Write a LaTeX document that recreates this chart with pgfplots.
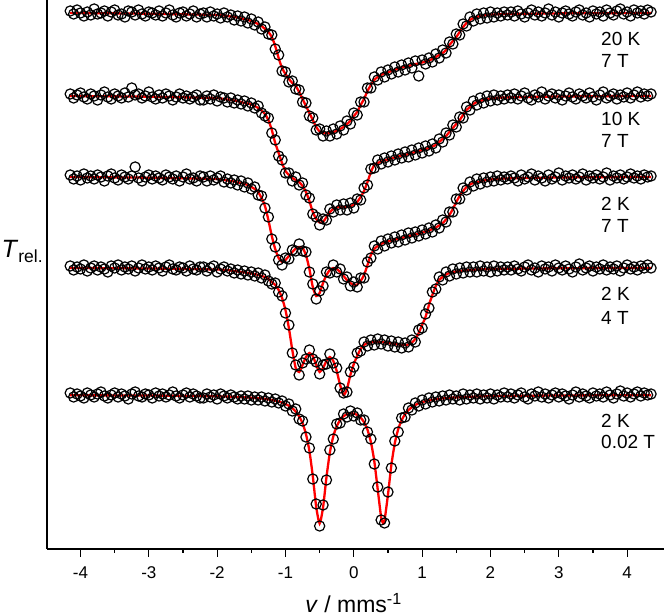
\documentclass[border=0pt]{standalone}
\usepackage{pgfplots}
\usepackage{pgfplotstable}
\usepackage{fontspec}
\setmainfont{Liberation Sans}
\pgfplotsset{compat=1.18}

\pgfplotstableread{
x a b c d e
-4.15 538 455 374 283 156
-4.10 535 451 370 279 152
-4.05 539 454 373 282 155
-4.00 536 456 369 280 153
-3.95 533 452 375 284 151
-3.90 537 450 371 278 156
-3.85 534 455 373 281 154
-3.80 540 453 370 283 152
-3.75 535 449 374 279 155
-3.70 536 454 372 282 157
-3.65 538 457 368 280 153
-3.60 533 452 373 277 151
-3.55 537 450 375 283 154
-3.50 539 455 371 281 156
-3.45 534 453 369 284 152
-3.40 535 451 374 279 155
-3.35 532 456 372 282 153
-3.30 538 452 370 280 150
-3.25 537 461 373 283 155
-3.20 534 454 382 278 157
-3.15 539 455 371 281 153
-3.10 535 451 368 284 152
-3.05 533 453 372 280 155
-3.00 537 457 374 282 154
-2.95 536 452 370 279 151
-2.90 534 450 373 283 156
-2.85 538 454 371 281 153
-2.80 533 451 369 278 155
-2.75 536 455 374 282 152
-2.70 539 453 372 284 154
-2.65 534 449 370 280 157
-2.60 532 452 373 279 153
-2.55 536 455 368 282 151
-2.50 537 451 372 281 154
-2.45 533 453 375 278 156
-2.40 535 450 370 283 152
-2.35 538 452 371 280 155
-2.30 532 454 368 279 153
-2.25 535 449 373 282 151
-2.20 536 449 372 282 151
-2.15 532 453 368 278 155
-2.10 537 450 373 281 152
-2.05 533 454 369 283 154
-2.00 535 448 371 277 150
-1.95 531 452 373 280 155
-1.90 536 451 367 282 153
-1.85 532 447 370 278 151
-1.80 534 451 366 280 154
-1.75 529 446 369 276 152
-1.70 533 449 364 279 150
-1.65 528 445 368 275 153
-1.60 532 448 362 278 150
-1.55 526 443 366 274 153
-1.50 530 446 360 277 149
-1.45 524 441 362 273 152
-1.40 527 443 354 276 149
-1.35 520 436 353 271 152
-1.30 522 433 341 274 148
-1.25 515 431 332 268 151
-1.20 514 416 310 265 147
-1.15 500 409 302 266 150
-1.10 494 393 289 257 146
-1.05 478 389 284 253 148
-1.00 477 376 291 236 143
-0.95 467 376 290 224 145
-0.90 468 368 299 196 138
-0.85 460 372 298 184 140
-0.80 459 364 305 174 130
-0.75 447 366 298 186 128
-0.70 446 354 297 190 112
-0.65 433 351 277 199 101
-0.60 431 335 265 190 70
-0.55 419 332 250 187 45
-0.50 420 324 258 175 23
-0.45 413 330 263 184 44
-0.40 418 329 277 185 69
-0.35 413 340 276 195 99
-0.30 420 337 284 186 110
-0.25 415 344 277 181 125
-0.20 423 339 280 161 126
-0.15 419 345 270 156 135
-0.10 428 339 272 157 132
-0.05 425 346 263 177 138
0.00 436 341 267 182 133
0.05 434 350 262 196 136
0.10 447 349 271 198 129
0.15 447 361 271 207 129
0.20 461 364 287 203 117
0.25 461 380 291 209 110
0.30 472 381 303 204 85
0.35 469 389 300 210 62
0.40 477 385 308 205 29
0.45 472 391 303 209 26
0.50 479 387 310 203 57
0.55 475 393 306 208 81
0.60 482 389 312 202 108
0.65 477 395 307 207 117
0.70 484 391 314 201 131
0.75 479 397 309 206 132
0.80 486 392 316 202 141
0.85 481 399 311 209 139
0.90 488 394 317 207 146
0.95 473 401 313 219 143
1.00 489 396 319 221 149
1.05 485 403 315 235 145
1.10 491 398 321 241 151
1.15 487 405 317 257 147
1.20 495 401 324 260 152
1.25 491 410 321 272 148
1.30 499 407 329 269 153
1.35 496 416 327 277 149
1.40 507 414 337 273 154
1.45 505 424 337 280 150
1.50 515 422 350 275 153
1.55 514 432 350 281 149
1.60 525 431 361 276 155
1.65 523 442 359 282 150
1.70 532 439 367 277 154
1.75 528 448 363 282 151
1.80 535 444 370 277 155
1.85 530 451 365 283 150
1.90 536 446 371 278 154
1.95 531 453 367 282 151
2.00 537 448 372 277 155
2.05 532 454 368 283 150
2.10 536 449 373 278 154
2.15 533 453 369 282 152
2.20 537 450 372 279 156
2.25 534 454 370 282 152
2.30 537 451 373 279 155
2.35 533 455 371 283 151
2.40 538 450 368 280 154
2.45 535 453 374 278 156
2.50 532 456 370 282 152
2.55 536 451 372 284 150
2.60 539 449 375 279 155
2.65 534 454 369 281 153
2.70 537 452 373 277 157
2.75 533 457 371 283 152
2.80 536 450 368 280 155
2.85 540 453 374 282 151
2.90 534 455 370 278 154
2.95 537 451 372 284 156
3.00 532 454 376 281 152
3.05 536 449 369 279 155
3.10 538 453 373 283 153
3.15 535 456 371 280 150
3.20 533 452 374 277 154
3.25 537 450 370 282 157
3.30 539 455 372 285 152
3.35 534 453 375 279 155
3.40 536 451 369 281 153
3.45 532 456 373 283 151
3.50 538 452 371 278 156
3.55 535 449 374 282 153
3.60 537 454 370 280 155
3.65 533 457 372 284 152
3.70 539 451 376 279 157
3.75 536 453 369 282 154
3.80 534 455 373 280 151
3.85 538 450 371 283 155
3.90 540 454 374 278 158
3.95 535 452 370 281 153
4.00 537 456 372 284 156
4.05 533 451 375 280 152
4.10 539 454 371 282 155
4.15 536 457 373 279 157
4.20 538 452 370 283 153
4.25 535 455 374 281 156
4.30 539 453 372 284 154
4.35 537 455 373 281 155
}\datatable

\pgfplotstableread{
x a b c d e
-4.15 536 453 372 281 153.7
-3.6 535.7 452.7 371.7 280.8 153.6
-3.0 535.3 452.3 371.3 280.5 153.5
-2.6 534.8 451.8 370.8 280.2 153.2
-2.2 534.3 451.3 370.3 279.8 152.9
-2.15 534.2 451.2 370.2 279.7 152.8
-2.10 534.1 451.1 370.1 279.6 152.8
-2.05 534 451 370 279.5 152.7
-2.00 534 451 370 279.5 152.7
-1.95 534 450.5 369.5 279.5 152.6
-1.90 533.5 450 369 279 152.5
-1.85 533 449.5 368.5 279 152.4
-1.80 532.5 449 368 278.5 152.3
-1.75 532 448.5 367.5 278 152.2
-1.70 531.5 448 366.5 277.5 152.0
-1.65 530.5 447 366 277 151.9
-1.60 530 446 365 276.5 151.7
-1.55 529 445.5 364 276 151.5
-1.50 528 444.5 362 275.5 151.3
-1.45 526.5 443 360 275 151.1
-1.40 525 441 357 274 150.8
-1.35 523 438.5 351 273 150.5
-1.30 520 435 343 272 150.1
-1.25 517 429 329 270 149.6
-1.20 512 419 313 267 149.0
-1.15 503 406 300 264 148.3
-1.10 491 396 291 259 147.5
-1.05 481 386 287 251 146.4
-1.00 475 378 289 239 145.0
-0.95 470 374 293 221 143.2
-0.90 466 371 297 199 140.8
-0.85 463 369 300.5 181 137.4
-0.80 457 367 302 177 132.7
-0.75 450 363 301 184 125.7
-0.70 443 357 294 192 114.9
-0.65 436 348 280 196 98.2
-0.60 429 337 262 193 72.8
-0.55 422 330 253 184 42.0
-0.50 417.5 326.5 256 177 25.6
-0.45 416 327 266 181 41.5
-0.40 415.5 332 274 188 71.8
-0.35 416 337 279 192 96.6
-0.30 417 340 281 188 112.7
-0.25 418 341.5 280 178 122.8
-0.20 420 342 277 164 128.9
-0.15 422 342 273 154 132.7
-0.10 425 342 269 160 134.8
-0.05 428 343 266 174 135.7
0.00 433 344 264 185 135.4
0.05 437 347 264.5 193 134.1
0.10 444 352 268 200 131.4
0.15 450 358 274 204 126.8
0.20 458 367 284 206 119.3
0.25 464 377 294 206.5 107.1
0.30 469 384 300 207 87.8
0.35 472 386 303 207 59.7
0.40 474 387.5 305 207 31.8
0.43 475 388 306 206.8 25.6
0.45 475.5 388.5 306.5 206.5 28.6
0.50 476.5 389.5 307.5 206 54.2
0.55 478 390.5 308.5 205.5 84.1
0.60 479 391.5 309.5 205 105.8
0.65 480.5 392.5 310 204.5 119.8
0.70 481.5 393.5 311 204 128.8
0.75 482 394 312 204 134.8
0.80 483 395 313 204.5 138.9
0.85 484 396 313.5 206.5 141.8
0.90 485 397 314.5 210 144.0
0.95 485.5 398 315.5 216 145.6
1.00 486.5 399 316.5 224 146.8
1.05 487.5 400 317.5 232 147.8
1.10 488.5 401 318.5 244 148.6
1.15 490 402.5 320 254 149.2
1.20 492 404 321.5 263 149.8
1.25 494 407 323.5 269 150.2
1.30 496 410 326 272 150.6
1.35 499 413 329.5 274.5 150.9
1.40 504 417 334 276 151.2
1.45 508 421 340 277 151.4
1.50 512 425 347 277.5 151.6
1.55 517 429 353 278 151.8
1.60 522 434 358 278.5 152.0
1.65 526 439 362 278.8 152.1
1.70 529 442 364.5 279 152.2
1.75 531 445 366 279.2 152.3
1.80 532 447 367 279.5 152.5
1.85 533 448 367.5 279.6 152.6
1.90 533.5 449 368.5 279.7 152.7
1.95 534 450 369 279.8 152.7
2.00 534.5 450.5 369.5 280 152.8
2.05 534.5 451 369.8 280 152.9
2.10 534.7 451.2 370 280.1 152.9
2.15 534.8 451.4 370.3 280.2 153.0
2.20 535 451.5 370.5 280.2 153.0
2.6 535.3 452.1 371.1 280.5 153.3
3.0 535.6 452.5 371.5 280.7 153.5
3.6 535.8 452.8 371.8 280.9 153.7
4.35 536 453 372 281 153.8
}\fittable

\begin{document}
\begin{tikzpicture}
\useasboundingbox (-23.5pt,-33pt) rectangle (308.5pt,274.5pt);
\begin{axis}[
  at={(0pt,0pt)}, anchor=south west,
  scale only axis, width=308.5pt, height=274.5pt,
  xmin=-4.49, xmax=4.54, ymin=0, ymax=549,
  axis x line*=bottom, axis y line*=left,
  axis line style={line width=0.6pt, black},
  ytick=\empty,
  xtick={-4,-3,-2,-1,0,1,2,3,4},
  minor x tick num=1,
  tick align=outside,
  major tick length=4pt, minor tick length=2pt,
  tick style={black, line width=0.6pt},
  xticklabel style={font=\fontsize{8.5}{10}\selectfont, yshift=-1.5pt},
  /pgf/number format/assume math mode=true,
  clip=false,
]
\pgfplotsinvokeforeach{a,b,c,d,e}{
  \addplot[only marks, mark=o, mark size=2.55pt, mark options={line width=0.6pt, draw=black}] table[x=x, y=#1] {\datatable};
}
\pgfplotsinvokeforeach{a,b,c,d,e}{
  \addplot[red, line width=1.15pt, smooth, tension=0.4, no markers] table[x=x, y=#1] {\fittable};
}
\begin{scope}[every node/.style={anchor=west, inner sep=0pt, font=\fontsize{9.5}{11}\selectfont}]
\node at (axis cs:3.615,510) {20 K};
\node at (axis cs:3.615,488.5) {7 T};
\node at (axis cs:3.615,430) {10 K};
\node at (axis cs:3.615,408) {7 T};
\node at (axis cs:3.615,345) {2 K};
\node at (axis cs:3.615,323) {7 T};
\node at (axis cs:3.615,255) {2 K};
\node at (axis cs:3.615,231.5) {4 T};
\node at (axis cs:3.615,128.5) {2 K};
\node at (axis cs:3.615,107) {0.02 T};
\end{scope}
\node[anchor=base west, inner sep=0pt, font=\fontsize{12.5}{14}\selectfont] at (axis cs:-5.16,291) {\textit{T}\textsubscript{rel.}};
\node[anchor=base, inner sep=0pt, font=\fontsize{11.5}{13}\selectfont] at (axis cs:0,-64) {\textit{v} / mms\textsuperscript{-1}};
\end{axis}
\end{tikzpicture}
\end{document}
